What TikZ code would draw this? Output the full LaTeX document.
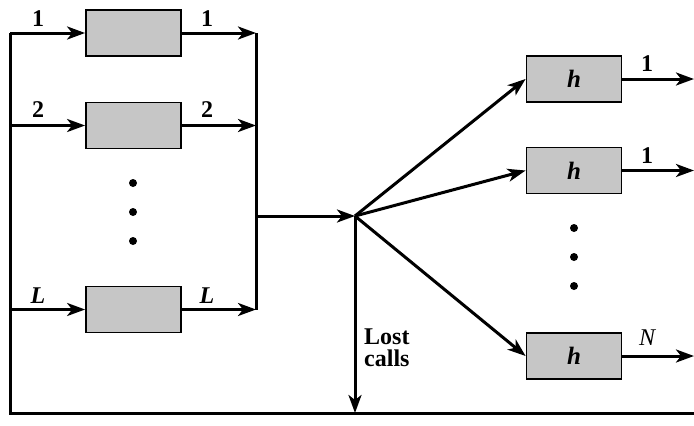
\documentclass[tikz,border=0pt]{standalone}
\usepackage{fontspec}
\setmainfont{Liberation Serif}
\usetikzlibrary{arrows.meta}
\begin{document}
\begin{tikzpicture}[x=1pt,y=-1pt,
  box/.style={draw, line width=1.8pt, fill=gray!45, minimum width=95pt, minimum height=46pt, inner sep=0pt},
  wire/.style={line width=3pt},
  arr/.style={wire, -{Stealth[length=18pt,width=13pt,inset=5pt]}},
  lab/.style={font=\fontsize{24}{26}\selectfont\bfseries, inner sep=0pt},
  dot/.style={circle, fill=black, inner sep=0pt, minimum size=8pt}]
\useasboundingbox (0,0) rectangle (694,426);
% left boxes
\node[box] (b1) at (133.5,33) {};
\node[box] (b2) at (133.5,125.5) {};
\node[box] (bL) at (133.5,309.5) {};
% right boxes
\node[box] (h1) at (574,79) {\fontsize{25}{27}\selectfont\bfseries\itshape h};
\node[box] (h2) at (574,170.5) {\fontsize{25}{27}\selectfont\bfseries\itshape h};
\node[box] (hN) at (574,356) {\fontsize{25}{27}\selectfont\bfseries\itshape h};
% coordinates
\coordinate (lt) at (10,33);
\coordinate (l2) at (10,125.5);
\coordinate (lL) at (10,309.5);
\coordinate (lb) at (10,413);
\coordinate (rt) at (256,33);
\coordinate (r2) at (256,125.5);
\coordinate (rL) at (256,309.5);
\coordinate (rm) at (256,216);
\coordinate (j) at (355,216);
\coordinate (jb) at (355,413);
\coordinate (rb) at (694,413);
\coordinate (o1) at (694,79);
\coordinate (o2) at (694,170.5);
\coordinate (oN) at (694,356);
% left structure
\draw[wire] (lt) -- (lb) -- (rb);
\draw[arr] (lt) -- (b1.west);
\draw[arr] (l2) -- (b2.west);
\draw[arr] (lL) -- (bL.west);
\draw[arr] (b1.east) -- (rt);
\draw[arr] (b2.east) -- (r2);
\draw[arr] (bL.east) -- (rL);
\draw[wire] (rt) -- (rL);
\draw[arr] (rm) -- (j);
\draw[arr] (j) -- (jb);
\draw[arr] (j) -- (h1.west);
\draw[arr] (j) -- (h2.west);
\draw[arr] (j) -- (hN.west);
\draw[arr] (h1.east) -- (o1);
\draw[arr] (h2.east) -- (o2);
\draw[arr] (hN.east) -- (oN);
% labels
\node[lab] (t1) at (38,19) {1};
\node[lab] (t1b) at (207,19) {1};
\node[lab] (t2) at (38,110) {2};
\node[lab] (t2b) at (207,110) {2};
\node[lab] (tL) at (38,296) {\itshape L};
\node[lab] (tLb) at (207,296) {\itshape L};
\node[lab] (u1) at (647,64) {1};
\node[lab] (u2) at (647,156) {1};
\node[lab, font=\fontsize{24}{26}\selectfont\itshape] (uN) at (647,338) {N};
\node[lab, font=\fontsize{24}{26}\selectfont\bfseries, align=left, anchor=north west] (lost) at (364,329) {Lost\\[-4pt]calls};
% dots
\node[dot] (d1) at (133,183) {};
\node[dot] (d2) at (133,212) {};
\node[dot] (d3) at (133,241) {};
\node[dot] (e1) at (574,228) {};
\node[dot] (e2) at (574,257) {};
\node[dot] (e3) at (574,286) {};
\end{tikzpicture}
\end{document}
